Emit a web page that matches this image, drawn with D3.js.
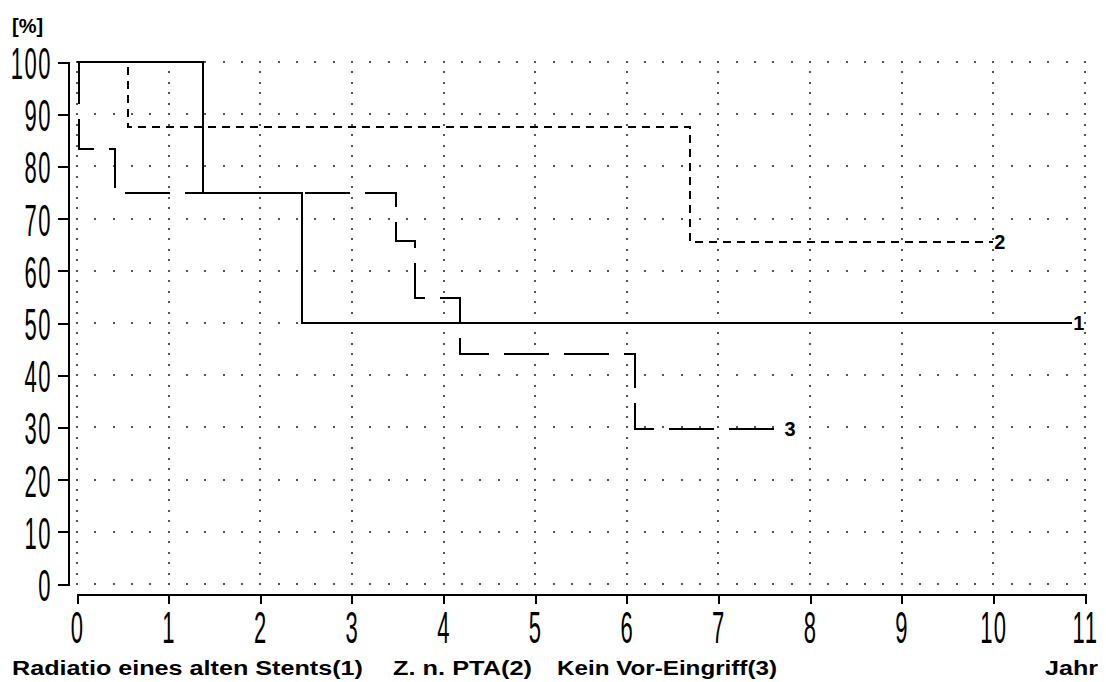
<!DOCTYPE html>
<html>
<head>
<meta charset="utf-8">
<script src="https://cdn.jsdelivr.net/npm/d3@7"></script>
<style>
	body { margin: 0; background: #fff; }
	svg { display: block; }
	.axis path, .axis line { stroke: #000; stroke-width: 2; shape-rendering: crispEdges; }
	.curve { fill: none; stroke: #000; stroke-width: 2; shape-rendering: crispEdges; }
	.tickLabel { font-family: "Liberation Sans", Arial, sans-serif; font-size: 44px; fill: #000; }
	.bold { font-family: "Liberation Sans", Arial, sans-serif; font-weight: bold; font-size: 20px; fill: #000; }
</style>
</head>
<body>
<script>
// axis ticks
var yearTicks = [0, 1, 2, 3, 4, 5, 6, 7, 8, 9, 10, 11];
var pctTicks = [0, 10, 20, 30, 40, 50, 60, 70, 80, 90, 100];

// survival curves (years / percent)
var stentYears = [0, 1.37, 2.46, 10.86];
var stentSurv = [100, 75, 50, 50];

var ptaYears = [0, 0.56, 6.69, 10.0];
var ptaSurv = [100, 87.5, 65.6, 65.6];

var noneYears = [0, 0.02, 0.41, 3.48, 3.69, 4.18, 6.09, 7.71];
var noneSurv = [100, 83.3, 75, 65.7, 54.8, 44.1, 29.7, 29.7];

var seriesNames = ['1', '2', '3'];
var legendTexts = ['Radiatio eines alten Stents(1)', 'Z. n. PTA(2)', 'Kein Vor-Eingriff(3)'];

var width = 1106,
	height = 682;

var x = d3.scaleLinear().domain([0, 11]).range([77, 1085]);
var y = d3.scaleLinear().domain([0, 100]).range([584, 62]);

var svg = d3.select('body').append('svg')
	.attr('width', width)
	.attr('height', height);

// dotted grid
var dots = [];
yearTicks.forEach(function (t) {
	d3.range(0, 100.1, 2).forEach(function (v) { dots.push([t, v]); });
});
pctTicks.forEach(function (v) {
	d3.range(0, 11.01, 0.2).forEach(function (t) { dots.push([t, v]); });
});
svg.append('g').selectAll('rect')
	.data(dots)
	.enter().append('rect')
	.attr('x', function (d) { return Math.round(x(d[0])) - 1; })
	.attr('y', function (d) { return Math.round(y(d[1])) - 1; })
	.attr('width', 2)
	.attr('height', 2)
	.attr('fill', '#555');

// axes
var yAxis = svg.append('g')
	.attr('class', 'axis')
	.attr('transform', 'translate(68,0)')
	.call(d3.axisLeft(y).tickValues(pctTicks).tickSize(10).tickFormat(d3.format('d')));

yAxis.selectAll('text')
	.attr('class', 'tickLabel')
	.attr('x', -32)
	.attr('dy', 0)
	.attr('y', 16.5)
	.attr('letter-spacing', 3)
	.attr('transform', 'scale(0.5,1)');

var xAxis = svg.append('g')
	.attr('class', 'axis')
	.attr('transform', 'translate(0,594)')
	.call(d3.axisBottom(x).tickValues(yearTicks).tickSize(10).tickFormat(d3.format('d')));

xAxis.selectAll('text')
	.attr('class', 'tickLabel')
	.attr('dy', 0)
	.attr('y', 49)
	.attr('letter-spacing', 3)
	.attr('transform', 'scale(0.5,1)');

// step curves
var step = d3.line()
	.x(function (d) { return x(d[0]); })
	.y(function (d) { return y(d[1]); })
	.curve(d3.curveStepAfter);

var curves = [
	{ name: seriesNames[0], pts: d3.zip(stentYears, stentSurv), dash: null, offset: 0 },
	{ name: seriesNames[1], pts: d3.zip(ptaYears, ptaSurv), dash: '8,6', offset: 0 },
	{ name: seriesNames[2], pts: d3.zip(noneYears, noneSurv), dash: '45,15', offset: 1.2 }
];

svg.selectAll('.curve')
	.data(curves)
	.enter().append('path')
	.attr('class', 'curve')
	.attr('d', function (d) { return step(d.pts); })
	.attr('stroke-dasharray', function (d) { return d.dash; })
	.attr('stroke-dashoffset', function (d) { return d.offset; });

// end labels
svg.selectAll('.endLabel')
	.data(curves)
	.enter().append('text')
	.attr('class', 'bold')
	.attr('x', function (d) { return x(d.pts[d.pts.length - 1][0]) + 1; })
	.attr('y', function (d) { return y(d.pts[d.pts.length - 1][1]) + 7; })
	.text(function (d) { return d.name; });

// unit labels
svg.append('text')
	.attr('class', 'bold')
	.attr('x', 12)
	.attr('y', 33)
	.text('[%]');

svg.append('text')
	.attr('class', 'bold')
	.attr('x', 1045)
	.attr('y', 675)
	.attr('textLength', 53)
	.attr('lengthAdjust', 'spacingAndGlyphs')
	.text('Jahr');

// legend line under the axis
var legendPos = [[12, 351], [393, 139], [557, 220]];
svg.selectAll('.legend')
	.data(legendTexts)
	.enter().append('text')
	.attr('class', 'bold')
	.attr('x', function (d, i) { return legendPos[i][0]; })
	.attr('y', 675)
	.attr('textLength', function (d, i) { return legendPos[i][1]; })
	.attr('lengthAdjust', 'spacingAndGlyphs')
	.text(function (d) { return d; });
</script>
</body>
</html>
